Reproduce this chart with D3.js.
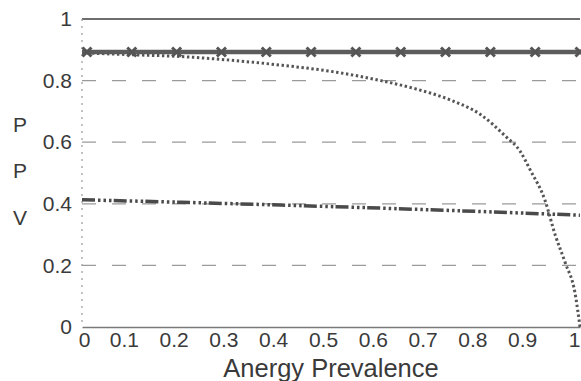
<!DOCTYPE html>
<html>
<head>
<meta charset="utf-8">
<script src="https://cdn.jsdelivr.net/npm/d3@7"></script>
<style>
  body { margin: 0; background: #fff; }
  text { font-family: "Liberation Sans", Arial, sans-serif; fill: #3a3a3a; }
</style>
</head>
<body>
<div id="chart"></div>
<script>
// data
var xTicks = [0, 0.1, 0.2, 0.3, 0.4, 0.5, 0.6, 0.7, 0.8, 0.9, 1];
var yTicks = [0, 0.2, 0.4, 0.6, 0.8, 1];

// flat line with x markers
var flatX = [0, 1];
var flatY = [0.893, 0.893];
var markerX = [0.01, 0.10, 0.19, 0.28, 0.37, 0.46, 0.55, 0.64, 0.73, 0.82, 0.91, 1.0];

// dotted curve
var curveX = [0, 0.1, 0.2, 0.3, 0.4, 0.5, 0.6, 0.67, 0.74, 0.8, 0.85, 0.88, 0.9, 0.93, 0.95, 0.97, 0.99, 1.0];
var curveY = [0.89, 0.884, 0.878, 0.866, 0.85, 0.83, 0.80, 0.773, 0.737, 0.69, 0.62, 0.57, 0.51, 0.41, 0.30, 0.21, 0.11, 0];

// dash-dot-dot line
var lowX = [0, 0.2, 0.4, 0.6, 0.8, 1];
var lowY = [0.413, 0.405, 0.396, 0.386, 0.375, 0.363];

var svgWidth = 581;
var svgHeight = 381;

var svg = d3.select("#chart")
  .append("svg")
  .attr("width", svgWidth)
  .attr("height", svgHeight);

var x = d3.scaleLinear().domain([0, 1]).range([82, 580]);
var y = d3.scaleLinear().domain([0, 1]).range([327, 19]);

// gridlines
svg.selectAll(".grid")
  .data(yTicks.filter(d => d > 0 && d < 1))
  .enter()
  .append("line")
  .attr("x1", x(0))
  .attr("x2", x(1))
  .attr("y1", d => y(d))
  .attr("y2", d => y(d))
  .attr("stroke", "#9a9a9a")
  .attr("stroke-width", 1.3)
  .attr("stroke-dasharray", "14,16");

// top line at 1
svg.append("line")
  .attr("x1", x(0)).attr("x2", x(1))
  .attr("y1", y(1)).attr("y2", y(1))
  .attr("stroke", "#6e6e6e")
  .attr("stroke-width", 2);

// left axis, faint dotted
svg.append("line")
  .attr("x1", x(0)).attr("x2", x(0))
  .attr("y1", y(1)).attr("y2", y(0))
  .attr("stroke", "#9a9a9a")
  .attr("stroke-width", 1.2)
  .attr("stroke-dasharray", "2,5");

// bottom axis
var bottomAxis = d3.axisBottom(x)
  .tickValues(xTicks)
  .tickSize(0)
  .tickPadding(4)
  .tickFormat(d3.format("~g"));

var xAxis = svg.append("g")
  .attr("transform", `translate(0, ${y(0)})`)
  .call(bottomAxis);

xAxis.select(".domain")
  .attr("stroke", "#7a7a7a")
  .attr("stroke-width", 1.6);

xAxis.selectAll("text")
  .attr("font-size", 21)
  .attr("fill", "#3a3a3a")
  .attr("dy", "0.76em")
  // labels in the scan sit a bit left of their ticks
  .attr("dx", d => d === 0 ? 2 : (d === 1 ? -6 : -8));

// left axis labels
var leftAxis = d3.axisLeft(y)
  .tickValues(yTicks)
  .tickSize(0)
  .tickPadding(10)
  .tickFormat(d3.format("~g"));

var yAxis = svg.append("g")
  .attr("transform", `translate(${x(0)}, 0)`)
  .call(leftAxis);

yAxis.select(".domain").remove();
yAxis.selectAll("text")
  .attr("font-size", 21)
  .attr("fill", "#3a3a3a");

// dash-dot-dot line
svg.append("path")
  .datum(lowX.map((d, i) => [d, lowY[i]]))
  .attr("fill", "none")
  .attr("stroke", "#4a4a4a")
  .attr("stroke-width", 3.5)
  .attr("stroke-dasharray", "13,3,2.5,3,2.5,3,2.5,2.2")
  .attr("d", d3.line().x(d => x(d[0])).y(d => y(d[1])));

// dotted curve
svg.append("path")
  .datum(curveX.map((d, i) => [d, curveY[i]]))
  .attr("fill", "none")
  .attr("stroke", "#555")
  .attr("stroke-width", 3)
  .attr("stroke-dasharray", "2.4,2.6")
  .attr("d", d3.line().curve(d3.curveMonotoneX).x(d => x(d[0])).y(d => y(d[1])));

// flat solid line
svg.append("path")
  .datum(flatX.map((d, i) => [d, flatY[i]]))
  .attr("fill", "none")
  .attr("stroke", "#5c5c5c")
  .attr("stroke-width", 4.5)
  .attr("d", d3.line().x(d => x(d[0])).y(d => y(d[1])));

// x markers on the flat line
svg.selectAll(".mark")
  .data(markerX)
  .enter()
  .append("path")
  .attr("transform", d => `translate(${x(d)}, ${y(flatY[0])})`)
  .attr("d", "M-4.5,-4.5L4.5,4.5M-4.5,4.5L4.5,-4.5")
  .attr("stroke", "#555")
  .attr("stroke-width", 3);

// axis titles
svg.append("text")
  .attr("x", 331)
  .attr("y", 377)
  .attr("text-anchor", "middle")
  .attr("font-size", 25.5)
  .text("Anergy Prevalence");

var yTitle = ["P", "P", "V"];
var yTitlePos = [124, 170, 217];
svg.selectAll(".ytitle")
  .data(yTitle)
  .enter()
  .append("text")
  .attr("x", 20)
  .attr("y", (d, i) => yTitlePos[i])
  .attr("dy", "0.36em")
  .attr("text-anchor", "middle")
  .attr("font-size", 21)
  .text(d => d);
</script>
</body>
</html>
